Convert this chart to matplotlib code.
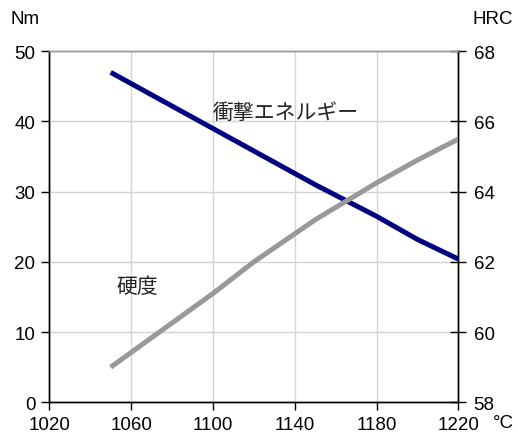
import matplotlib
matplotlib.use("Agg")
import matplotlib.pyplot as plt

plt.rcParams['font.family'] = ['Liberation Sans', 'Noto Sans CJK JP', 'DejaVu Sans']

# Tempering temperature (°C)
temps = [1050, 1100, 1120, 1150, 1180, 1200, 1220]
# Impact energy (Nm), left axis
impact_energy = [47.0, 39.0, 35.8, 31.0, 26.5, 23.2, 20.4]
# Hardness (HRC), right axis
hardness = [59.0, 61.1, 62.0, 63.2, 64.25, 64.9, 65.5]

x_ticks = [1020, 1060, 1100, 1140, 1180, 1220]
nm_ticks = [0, 10, 20, 30, 40, 50]
hrc_ticks = [58, 60, 62, 64, 66, 68]

fig = plt.figure(figsize=(5.18, 4.39), dpi=100)
ax = fig.add_axes([0.0952, 0.0813, 0.7896, 0.7996])

ax.set_xlim(1020, 1220)
ax.set_ylim(0, 50)
ax.set_xticks(x_ticks)
ax.set_yticks(nm_ticks)
ax.grid(True, color='#d4d4d4', linewidth=1.0)
ax.set_axisbelow(True)

ax.plot(temps, impact_energy, color='#000080', linewidth=3.6,
        solid_capstyle='butt', zorder=3)

ax2 = ax.twinx()
ax2.set_ylim(58, 68)
ax2.set_yticks(hrc_ticks)
ax2.plot(temps, hardness, color='#999999', linewidth=3.6,
         solid_capstyle='butt', zorder=3)

for a in (ax, ax2):
    for s in ('left', 'bottom', 'right'):
        a.spines[s].set_color('black')
        a.spines[s].set_linewidth(1.0)
    a.spines['top'].set_color('#999999')
    a.spines['top'].set_linewidth(1.0)

ax.tick_params(axis='both', direction='out', length=6, width=1,
               labelsize=13.5, pad=4, colors='black')
ax2.tick_params(axis='y', direction='inout', length=12, width=1,
                labelsize=13.5, pad=5)

ax.text(1099.7, 41.4, '衝撃エネルギー', fontsize=15, color='#222222',
        family=['Noto Sans CJK JP'], va='center', ha='left')
ax.text(1052.7, 16.6, '硬度', fontsize=15, color='#222222',
        family=['Noto Sans CJK JP'], va='center', ha='left')

fig.text(10 / 518, 1 - 20 / 439, 'Nm', fontsize=13.5, ha='left', va='center')
fig.text(472 / 518, 1 - 20 / 439, 'HRC', fontsize=13.5, ha='left', va='center')
fig.text(493 / 518, 1 - 424 / 439, '°C', fontsize=13.5, ha='left', va='center')

fig.savefig('out.png', dpi=100, facecolor='white')
